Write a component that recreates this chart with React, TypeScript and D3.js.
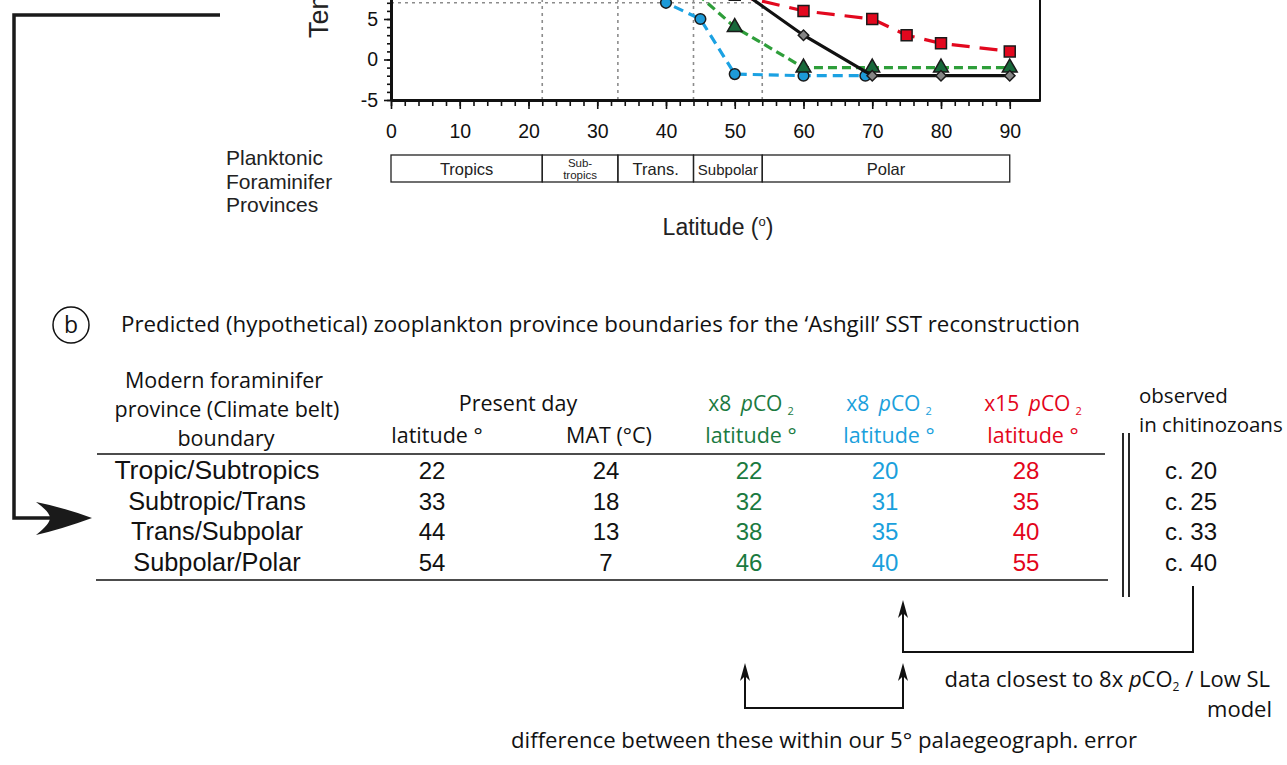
import React, { useEffect, useRef } from 'react';
import * as d3 from 'd3';

const W = 1287;
const H = 765;

// SST curves (latitude in degrees, temperature in degC); only the cold end is in view
const presentLat = [50, 60, 70, 80, 90];
const presentTemp = [9, 3, -2, -2, -2];
const x8GreenLat = [40, 50, 60, 70, 80, 90];
const x8GreenTemp = [11.5, 4, -1, -1, -1, -1];
const x8BlueLat = [30, 40, 45, 50, 60, 69];
const x8BlueTemp = [19, 7, 5, -1.8, -2, -2];
const x15Lat = [50, 60, 70, 75, 80, 90];
const x15Temp = [8, 6, 5, 3, 2, 1];

const latTicks = [0, 10, 20, 30, 40, 50, 60, 70, 80, 90];
const tempTicks = [-5, 0, 5];

// foraminifer provinces under the x axis
const provinceNames = ['Tropics', 'Sub-|tropics', 'Trans.', 'Subpolar', 'Polar'];
const provinceEdges = [0, 22, 33, 44, 54, 90];

// table b
const boundaryNames = ['Tropic/Subtropics', 'Subtropic/Trans', 'Trans/Subpolar', 'Subpolar/Polar'];
const presentBoundLat = [22, 33, 44, 54];
const presentBoundMAT = [24, 18, 13, 7];
const x8GreenBound = [22, 32, 38, 46];
const x8BlueBound = [20, 31, 35, 40];
const x15Bound = [28, 35, 40, 55];
const observedBound = ['c. 20', 'c. 25', 'c. 33', 'c. 40'];

const ARIAL = '"Liberation Sans", Arial, sans-serif';
const MYRIAD = '"Open Sans", "Noto Sans", sans-serif';
const GREEN_TXT = '#1a7a3f';
const BLUE_TXT = '#1aa0dc';
const RED_TXT = '#e3051b';

function drawChart(svg) {
  const x = d3.scaleLinear().domain([0, 94.4]).range([391, 1040]);
  const y = d3.scaleLinear().domain([-5, 25]).range([100, -143]);
  const g = svg.append('g');

  // plot frame, its top is out of view
  g.append('rect')
    .attr('x', x(0)).attr('y', y(25))
    .attr('width', x(94.4) - x(0)).attr('height', y(-5) - y(25))
    .attr('fill', 'none').attr('stroke', '#111').attr('stroke-width', 2);

  // present day boundary guides
  presentBoundLat.forEach((lat, i) => {
    const t = presentBoundMAT[i];
    g.append('line')
      .attr('x1', x(lat)).attr('x2', x(lat)).attr('y1', y(-5)).attr('y2', y(t))
      .attr('stroke', '#8c8c8c').attr('stroke-width', 1.6).attr('stroke-dasharray', '3,4');
    g.append('line')
      .attr('x1', x(0)).attr('x2', x(lat)).attr('y1', y(t)).attr('y2', y(t))
      .attr('stroke', '#8c8c8c').attr('stroke-width', 1.6).attr('stroke-dasharray', '3,4');
  });

  // axes
  const xMinor = d3.axisBottom(x).tickValues(d3.range(0, 92, 2)).tickSize(6).tickSizeOuter(0).tickFormat(() => '');
  const xMajor = d3.axisBottom(x).tickValues(latTicks).tickSize(9).tickSizeOuter(0).tickPadding(15);
  const yMinor = d3.axisLeft(y).tickValues(d3.range(-5, 14, 1)).tickSize(4).tickSizeOuter(0).tickFormat(() => '');
  const yMajor = d3.axisLeft(y).tickValues(tempTicks).tickSize(7).tickSizeOuter(0).tickPadding(6)
    .tickFormat(d => String(d));

  [xMinor, xMajor].forEach(a => {
    g.append('g').attr('transform', `translate(0,${y(-5)})`).call(a);
  });
  [yMinor, yMajor].forEach(a => {
    g.append('g').attr('transform', `translate(${x(0)},0)`).call(a);
  });
  g.selectAll('.domain').attr('stroke', '#111').attr('stroke-width', 3);
  g.selectAll('.tick line').attr('stroke', '#111').attr('stroke-width', 1.6);
  g.selectAll('.tick text').attr('font-family', ARIAL).attr('font-size', 19.5).attr('fill', '#111');

  // y title, cropped by the top edge as in the source figure
  g.append('text')
    .attr('transform', 'translate(328,38) rotate(-90)')
    .attr('font-family', ARIAL).attr('font-size', 27).attr('fill', '#222')
    .text('Temperature (°C)');

  const line = d3.line().x(d => x(d[0])).y(d => y(d[1]));
  const series = [
    { lat: x8BlueLat, temp: x8BlueTemp, stroke: '#1ba1e2', dash: '10,6', fill: '#1d9ad8', shape: 'circle' },
    { lat: x8GreenLat, temp: x8GreenTemp, stroke: '#2e9e3a', dash: '9,5', fill: '#17683a', shape: 'triangle' },
    { lat: presentLat, temp: presentTemp, stroke: '#111', dash: null, fill: '#858585', shape: 'diamond' },
    { lat: x15Lat, temp: x15Temp, stroke: '#e2081e', dash: '18,10', fill: '#e2081e', shape: 'square' },
  ];
  series.forEach(s => {
    const pts = s.lat.map((l, i) => [l, s.temp[i]]);
    g.append('path')
      .attr('d', line(pts))
      .attr('fill', 'none').attr('stroke', s.stroke).attr('stroke-width', 3.2)
      .attr('stroke-dasharray', s.dash);
    let sym;
    let rot = 0;
    if (s.shape === 'circle') sym = d3.symbol(d3.symbolCircle, 90);
    else if (s.shape === 'triangle') sym = d3.symbol(d3.symbolTriangle, 95);
    else if (s.shape === 'square') sym = d3.symbol(d3.symbolSquare, 120);
    else { sym = d3.symbol(d3.symbolSquare, 55); rot = 45; }
    g.selectAll(null)
      .data(pts)
      .enter()
      .append('path')
      .attr('d', sym)
      .attr('transform', d => `translate(${x(d[0])},${y(d[1])}) rotate(${rot})`)
      .attr('fill', s.fill).attr('stroke', '#1a1a1a').attr('stroke-width', 1.5);
  });

  // province strip
  const top = 155;
  const bot = 182;
  provinceNames.forEach((name, i) => {
    const x0 = x(provinceEdges[i]);
    const x1 = x(provinceEdges[i + 1]);
    g.append('rect')
      .attr('x', x0).attr('y', top).attr('width', x1 - x0).attr('height', bot - top)
      .attr('fill', 'none').attr('stroke', '#222').attr('stroke-width', 1.3);
    const parts = name.split('|');
    if (parts.length > 1) {
      parts.forEach((p, j) => {
        g.append('text')
          .attr('x', (x0 + x1) / 2).attr('y', 167 + j * 12)
          .attr('text-anchor', 'middle')
          .attr('font-family', ARIAL).attr('font-size', 11.5).attr('fill', '#222')
          .text(p);
      });
    } else {
      g.append('text')
        .attr('x', (x0 + x1) / 2).attr('y', 175)
        .attr('text-anchor', 'middle')
        .attr('font-family', ARIAL).attr('font-size', name === 'Subpolar' ? 15 : 16.5).attr('fill', '#222')
        .text(name);
    }
  });

  ['Planktonic', 'Foraminifer', 'Provinces'].forEach((t, i) => {
    g.append('text')
      .attr('x', 226).attr('y', 165 + i * 23.5)
      .attr('font-family', ARIAL).attr('font-size', 21).attr('fill', '#222')
      .text(t);
  });

  const lt = g.append('text')
    .attr('x', 718).attr('y', 235)
    .attr('text-anchor', 'middle')
    .attr('font-family', ARIAL).attr('font-size', 23).attr('fill', '#222');
  lt.append('tspan').text('Latitude (');
  lt.append('tspan').attr('font-size', 13).attr('dy', -9).text('o');
  lt.append('tspan').attr('dy', 9).text(')');
}

function pco2(sel, lead) {
  sel.append('tspan').text(lead + ' ');
  sel.append('tspan').attr('font-style', 'italic').attr('dx', 4).text('p');
  sel.append('tspan').text('CO');
  sel.append('tspan').attr('font-size', 11).attr('dx', 5).attr('dy', 4).text('2');
}

function drawTable(svg) {
  const g = svg.append('g');

  g.append('circle').attr('cx', 71).attr('cy', 325).attr('r', 18)
    .attr('fill', 'none').attr('stroke', '#111').attr('stroke-width', 1.5);
  g.append('text').attr('x', 71).attr('y', 333).attr('text-anchor', 'middle')
    .attr('font-family', MYRIAD).attr('font-size', 23).attr('fill', '#111').text('b');
  g.append('text').attr('x', 121).attr('y', 332)
    .attr('font-family', MYRIAD).attr('font-size', 21).attr('fill', '#111')
    .attr('textLength', 959).attr('lengthAdjust', 'spacingAndGlyphs')
    .text('Predicted (hypothetical) zooplankton province boundaries for the \u2018Ashgill\u2019 SST reconstruction');

  const head = (tx, hx, hy, color, anchor = 'middle', size = 21.5) =>
    g.append('text').attr('x', hx).attr('y', hy).attr('text-anchor', anchor)
      .attr('font-family', MYRIAD).attr('font-size', size).attr('fill', color).text(tx);

  head('Modern foraminifer', 224, 388, '#111');
  head('province (Climate belt)', 227, 417, '#111');
  head('boundary', 226, 446, '#111');
  head('Present day', 518, 411, '#111');
  head('latitude \u00b0', 437, 443, '#111');
  head('MAT (\u00b0C)', 609, 443, '#111');
  head('latitude \u00b0', 751, 443, GREEN_TXT);
  head('latitude \u00b0', 889, 443, BLUE_TXT);
  head('latitude \u00b0', 1033, 443, RED_TXT);
  head('observed', 1139, 403, '#111', 'start', 20.5);
  head('in chitinozoans', 1139, 432, '#111', 'start', 20.5);

  [['x8', 751, GREEN_TXT], ['x8', 889, BLUE_TXT], ['x15', 1033, RED_TXT]].forEach(([lead, hx, c]) => {
    const t = g.append('text').attr('x', hx).attr('y', 411).attr('text-anchor', 'middle')
      .attr('font-family', MYRIAD).attr('font-size', 21).attr('fill', c);
    pco2(t, lead);
  });

  // rules
  g.append('line').attr('x1', 97).attr('x2', 1105).attr('y1', 454).attr('y2', 454)
    .attr('stroke', '#111').attr('stroke-width', 1.5);
  g.append('line').attr('x1', 96).attr('x2', 1108).attr('y1', 580).attr('y2', 580)
    .attr('stroke', '#111').attr('stroke-width', 1.5);
  [1123, 1129].forEach(lx => {
    g.append('line').attr('x1', lx).attr('x2', lx).attr('y1', 433).attr('y2', 597)
      .attr('stroke', '#111').attr('stroke-width', 1.8);
  });

  const rowY = d3.scaleLinear().domain([0, 3]).range([479, 571]);
  const cols = [
    { vals: presentBoundLat, x: 432, color: '#111' },
    { vals: presentBoundMAT, x: 606, color: '#111' },
    { vals: x8GreenBound, x: 749, color: GREEN_TXT },
    { vals: x8BlueBound, x: 885, color: BLUE_TXT },
    { vals: x15Bound, x: 1026, color: RED_TXT },
  ];
  g.selectAll(null).data(boundaryNames).enter().append('text')
    .attr('x', 217).attr('y', (d, i) => rowY(i))
    .attr('text-anchor', 'middle')
    .attr('font-family', ARIAL).attr('font-size', (d, i) => (i === 0 ? 26.5 : 25.3)).attr('fill', '#111')
    .text(d => d);
  cols.forEach(c => {
    g.selectAll(null).data(c.vals).enter().append('text')
      .attr('x', c.x).attr('y', (d, i) => rowY(i))
      .attr('text-anchor', 'middle')
      .attr('font-family', ARIAL).attr('font-size', 24).attr('fill', c.color)
      .text(d => d);
  });
  g.selectAll(null).data(observedBound).enter().append('text')
    .attr('x', 1165).attr('y', (d, i) => rowY(i))
    .attr('font-family', ARIAL).attr('font-size', 24).attr('fill', '#111')
    .text(d => d);
}

function upHead(g, tx, ty) {
  g.append('path')
    .attr('d', `M${tx},${ty} L${tx + 5},${ty + 18} L${tx},${ty + 13} L${tx - 5},${ty + 18} Z`)
    .attr('fill', '#111');
}

function drawArrows(svg) {
  const g = svg.append('g');

  // big arrow from panel a down to the table
  g.append('path').attr('d', 'M220,15 H14 V518 H55')
    .attr('fill', 'none').attr('stroke', '#1a1a1a').attr('stroke-width', 3.5);
  g.append('path')
    .attr('d', 'M92,518 Q62,507 36,502 Q50,512 50,518 Q50,524 36,535 Q62,529 92,518 Z')
    .attr('fill', '#1a1a1a');

  g.append('path').attr('d', 'M1193,586 V652 H903 V610')
    .attr('fill', 'none').attr('stroke', '#111').attr('stroke-width', 2);
  upHead(g, 903, 600);

  g.append('path').attr('d', 'M745,672 V708 H903 V672')
    .attr('fill', 'none').attr('stroke', '#111').attr('stroke-width', 2);
  upHead(g, 745, 663);
  upHead(g, 903, 663);

  const t = g.append('text').attr('x', 1270).attr('y', 687).attr('text-anchor', 'end')
    .attr('font-family', MYRIAD).attr('font-size', 22).attr('fill', '#111');
  t.append('tspan').text('data closest to 8x ');
  t.append('tspan').attr('font-style', 'italic').text('p');
  t.append('tspan').text('CO');
  t.append('tspan').attr('font-size', 12).attr('dy', 4).text('2');
  t.append('tspan').attr('dy', -4).text(' / Low SL');

  g.append('text').attr('x', 1272).attr('y', 717).attr('text-anchor', 'end')
    .attr('font-family', MYRIAD).attr('font-size', 22).attr('fill', '#111').text('model');
  g.append('text').attr('x', 511).attr('y', 748)
    .attr('font-family', MYRIAD).attr('font-size', 21.5).attr('fill', '#111')
    .attr('textLength', 626).attr('lengthAdjust', 'spacingAndGlyphs')
    .text('difference between these within our 5\u00b0 palaegeograph. error');
}

export default function App() {
  const ref = useRef(null);

  useEffect(() => {
    const svg = d3.select(ref.current);
    svg.selectAll('*').remove();
    drawChart(svg);
    drawTable(svg);
    drawArrows(svg);
  }, []);

  return (
    <svg
      ref={ref}
      width={W}
      height={H}
      style={{ position: 'absolute', left: 0, top: 0, background: '#fff' }}
    />
  );
}
